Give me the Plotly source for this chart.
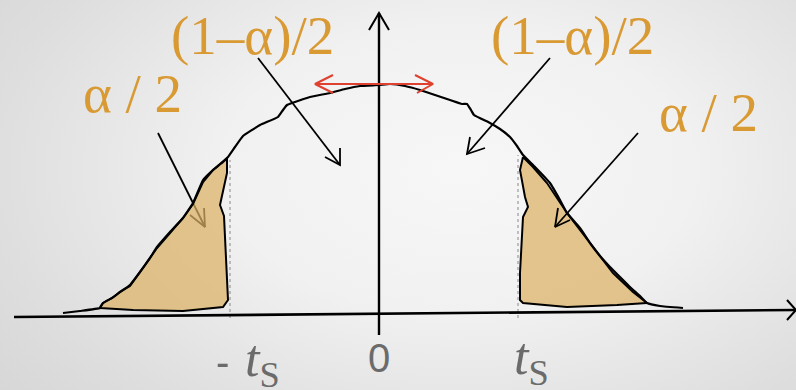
import plotly.graph_objects as go

# ---------------- data (t axis units: 0 at centre, density height units) -------------
curve_x = [-316, -299, -279, -276, -267, -259, -249, -239, -229, -222, -209, -196, -186,
           -176, -166, -156, -151, -144, -136, -119, -101, -96, -92, -87, -69,
           -49, -34, -19, 0, 11, 26, 41, 56, 71, 83, 88, 92, 95, 111, 121, 131, 138, 144,
           156, 171, 181, 188, 201, 211, 221, 231, 241, 251, 261, 268, 281, 304]
curve_y = [2, 4, 7, 12, 17, 23, 30, 43, 57, 68, 83, 97, 112,
           135, 145, 153, 158, 168, 179, 190, 198, 205, 210, 212, 218,
           222, 226, 229, 230, 231, 229, 225, 220, 215, 211, 211, 205, 200, 192, 186, 178, 169, 160,
           148, 132, 115, 102, 87, 72, 59, 48, 38, 28, 19, 12, 9, 7]

left_tail_x = [-279, -276, -267, -259, -249, -239, -229, -222, -209, -196, -186, -176, -166,
               -157, -152, -152, -159, -155, -154, -152, -151, -156, -196, -246, -279]
left_tail_y = [8, 12, 17, 23, 29, 43, 56, 67, 82, 97, 111, 133, 145,
               153, 157, 142, 110, 99, 75, 42, 15, 8, 4, 5, 7]

right_tail_x = [144, 141, 146, 149, 144, 143, 141, 141, 144, 188, 238, 268, 254, 234, 211,
                188, 168, 154, 144]
right_tail_y = [158, 145, 118, 108, 98, 75, 42, 15, 12, 8, 10, 12, 23, 42, 72,
                102, 132, 148, 158]

crit_x = [-149, 139]
crit_top = [155, 160]

tick_labels = ["-", "0", "<i>t</i><sub>S</sub>"]
alpha_half = "α / 2"
centre_half = "(1\u2013α)/2"

# axes (x axis drawn slightly tilted, as in the sketch)
xaxis_line_x = [-365, 417]
xaxis_line_y = [-2, 5]
xaxis_head_x = [408, 417, 408]
xaxis_head_y = [15, 5, -5]
yaxis_line_x = [0, 0]
yaxis_line_y = [-20, 302]
yaxis_head_x = [-10, 0, 10]
yaxis_head_y = [285, 302, 285]

# pointer arrows: shaft start, tip, and the two head arms
arrows = {
    "centre_left":  dict(start=(-121, 257), tip=(-39, 150), arms=[(-54, 158), (-39, 167)]),
    "centre_right": dict(start=(171, 257), tip=(88, 161), arms=[(91, 178), (106, 167)]),
    "tail_left":    dict(start=(-221, 182), tip=(-174, 88), arms=[(-189, 100), (-175, 107)]),
    "tail_right":   dict(start=(259, 182), tip=(176, 88), arms=[(179, 107), (191, 95)]),
}

# red double arrow at the top of the curve
red_x = [-64, 54]
red_y = [231, 231]
red_left_head = [(-46, 240), (-64, 231), (-46, 222)]
red_right_head = [(36, 240), (54, 231), (38, 222)]

ORANGE = "#d99a33"
GREY = "#6b6b6b"
FILL = "rgba(222,178,101,0.72)"

fig = go.Figure()

# background gradient
fig.add_trace(go.Scatter(
    x=[-700, 860, 860, -700, -700], y=[-330, -330, 620, 620, -330],
    mode="none", fill="toself", hoverinfo="skip", showlegend=False,
    fillgradient=dict(type="radial",
                      colorscale=[[0, "#f7f7f7"], [0.3, "#f1f1f1"], [0.6, "#dedede"], [1, "#cbcbcb"]]),
))


def arrow_trace(a, color="black", width=1.8):
    xs = [a["start"][0], a["tip"][0], None,
          a["arms"][0][0], a["tip"][0], a["arms"][1][0]]
    ys = [a["start"][1], a["tip"][1], None,
          a["arms"][0][1], a["tip"][1], a["arms"][1][1]]
    return go.Scatter(x=xs, y=ys, mode="lines", line=dict(color=color, width=width),
                      hoverinfo="skip", showlegend=False)


# dotted critical lines
for cx, ct in zip(crit_x, crit_top):
    fig.add_trace(go.Scatter(x=[cx, cx], y=[-3, ct], mode="lines",
                             line=dict(color="#9a9a9a", width=1.2, dash="dot"),
                             hoverinfo="skip", showlegend=False))

# left tail pointer goes under the shading
fig.add_trace(arrow_trace(arrows["tail_left"]))

# shaded tails
for tx, ty in [(left_tail_x, left_tail_y), (right_tail_x, right_tail_y)]:
    fig.add_trace(go.Scatter(x=tx, y=ty, mode="lines", fill="toself", fillcolor=FILL,
                             line=dict(color="black", width=2), hoverinfo="skip",
                             showlegend=False))

# curve
fig.add_trace(go.Scatter(x=curve_x, y=curve_y, mode="lines",
                         line=dict(color="black", width=2.2, shape="spline", smoothing=0.3),
                         hoverinfo="skip", showlegend=False))

# axes
fig.add_trace(go.Scatter(x=xaxis_line_x, y=xaxis_line_y, mode="lines",
                         line=dict(color="black", width=2.6), hoverinfo="skip", showlegend=False))
fig.add_trace(go.Scatter(x=xaxis_head_x, y=xaxis_head_y, mode="lines",
                         line=dict(color="black", width=2), hoverinfo="skip", showlegend=False))
fig.add_trace(go.Scatter(x=yaxis_line_x, y=yaxis_line_y, mode="lines",
                         line=dict(color="black", width=2.4), hoverinfo="skip", showlegend=False))
fig.add_trace(go.Scatter(x=yaxis_head_x, y=yaxis_head_y, mode="lines",
                         line=dict(color="black", width=2), hoverinfo="skip", showlegend=False))

# other pointers
for k in ["centre_left", "centre_right", "tail_right"]:
    fig.add_trace(arrow_trace(arrows[k]))

# red double arrow
fig.add_trace(go.Scatter(
    x=red_x + [None] + [p[0] for p in red_left_head] + [None] + [p[0] for p in red_right_head],
    y=red_y + [None] + [p[1] for p in red_left_head] + [None] + [p[1] for p in red_right_head],
    mode="lines", line=dict(color="#e0402f", width=2), hoverinfo="skip", showlegend=False))

SERIF = "Liberation Serif"
annotations = [
    dict(x=-127, y=280, text=centre_half, font=dict(family=SERIF, size=55, color=ORANGE)),
    dict(x=193, y=280, text=centre_half, font=dict(family=SERIF, size=55, color=ORANGE)),
    dict(x=-247, y=222, text=alpha_half, font=dict(family=SERIF, size=55, color=ORANGE)),
    dict(x=329, y=203, text=alpha_half, font=dict(family=SERIF, size=55, color=ORANGE)),
    # tick labels
    dict(x=0, y=-43, text=tick_labels[1], font=dict(family="Liberation Sans", size=40, color=GREY)),
    dict(x=-157, y=-47, text=tick_labels[0], font=dict(family="Liberation Sans", size=40, color=GREY)),
    dict(x=-117, y=-47, text=tick_labels[2], font=dict(family=SERIF, size=52, color=GREY)),
    dict(x=152, y=-45, text=tick_labels[2], font=dict(family=SERIF, size=52, color=GREY)),
]
for a in annotations:
    a.update(xref="x", yref="y", showarrow=False, xanchor="center", yanchor="middle")

fig.update_layout(
    width=796, height=390, autosize=False,
    margin=dict(l=0, r=0, t=0, b=0),
    paper_bgcolor="#e6e6e6", plot_bgcolor="#e6e6e6",
    xaxis=dict(range=[-379, 417], visible=False, fixedrange=True),
    yaxis=dict(range=[-75, 315], visible=False, fixedrange=True),
    annotations=annotations,
    showlegend=False,
)

fig.write_html(
    "out.html",
    config={"displayModeBar": False},
    post_script="document.body.style.margin='0';document.body.style.overflow='hidden';",
)
